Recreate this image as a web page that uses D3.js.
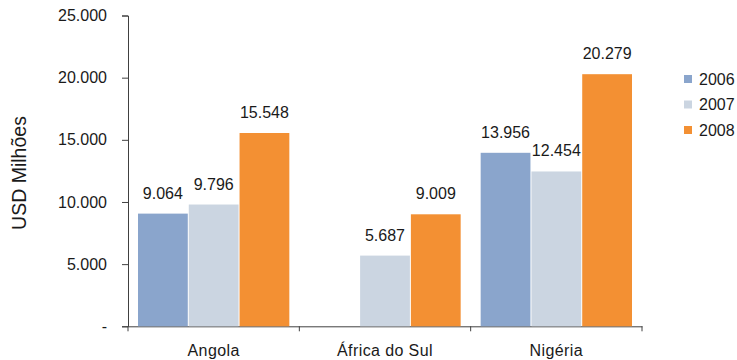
<!DOCTYPE html>
<html>
<head>
<meta charset="utf-8">
<script src="https://cdn.jsdelivr.net/npm/d3@7"></script>
<style>
  body { margin: 0; background: #fff; }
  text { font-family: "Liberation Sans", Arial, sans-serif; fill: #1a1a1a; }
</style>
</head>
<body>
<svg id="drawing_region"></svg>
<script>
// data
const countries = ["Angola", "África do Sul", "Nigéria"];
const years = ["2006", "2007", "2008"];
const values2006 = [9064, null, 13956];
const values2007 = [9796, 5687, 12454];
const values2008 = [15548, 9009, 20279];
const yTicks = [0, 5000, 10000, 15000, 20000, 25000];
const colors = ["#8aa5cc", "#cbd5e1", "#f39033"];

const seriesValues = [values2006, values2007, values2008];

const config = {
    width: 737,
    height: 360,
    margin: {top: 15.5, right: 95, bottom: 34, left: 128}
};

const locale = d3.formatLocale({decimal: ",", thousands: ".", grouping: [3], currency: ["", ""]});
const fmt = locale.format(",.0f");
const tickFmt = d => d === 0 ? "-" : fmt(d);

const svg = d3.select('#drawing_region')
    .attr('width', config.width)
    .attr('height', config.height);

const inner_width = 642 - config.margin.left;
const inner_height = 326.3 - config.margin.top;

const chart = svg.append('g')
    .attr('transform', `translate(${config.margin.left}, ${config.margin.top})`);

const xscale = d3.scaleBand()
    .domain(countries)
    .range([0, inner_width])
    .paddingInner(0)
    .paddingOuter(0);

const groupPad = 10;
const x1 = d3.scaleBand()
    .domain(years)
    .range([groupPad, xscale.bandwidth() - groupPad + 1]);

const yscale = d3.scaleLinear()
    .domain([0, 25000])
    .range([inner_height, 0]);

// y axis
const yaxis_group = chart.append('g')
    .call(d3.axisLeft(yscale).tickValues(yTicks).tickFormat(tickFmt).tickSize(6).tickPadding(15));
yaxis_group.selectAll('text').style('font-size', '16px').attr('fill', '#1a1a1a');
yaxis_group.selectAll('line, path').attr('stroke', '#404040');

// x axis
const xaxis_group = chart.append('g')
    .attr('transform', `translate(0, ${inner_height})`)
    .call(d3.axisBottom(xscale).tickSize(5).tickSizeOuter(0).tickFormat(""));
xaxis_group.selectAll('line, path').attr('stroke', '#404040');
// ticks at band boundaries instead of centers
xaxis_group.selectAll('.tick line').attr('x1', xscale.bandwidth() / 2).attr('x2', xscale.bandwidth() / 2);
xaxis_group.append('line')
    .attr('x1', 0).attr('x2', 0)
    .attr('y1', 0).attr('y2', 5)
    .attr('stroke', '#404040');

chart.append('g').selectAll('text')
    .data(countries)
    .join('text')
    .attr('x', d => xscale(d) + xscale.bandwidth() / 2)
    .attr('y', inner_height + 30)
    .attr('text-anchor', 'middle')
    .style('font-size', '16px')
    .style('letter-spacing', '0.4px')
    .text(d => d);

// bars
const bars = [];
countries.forEach((c, i) => {
    years.forEach((y, j) => {
        const v = seriesValues[j][i];
        if (v !== null) bars.push({country: c, year: y, value: v, color: colors[j]});
    });
});

chart.append('g').selectAll('rect')
    .data(bars)
    .join('rect')
    .attr('x', d => xscale(d.country) + x1(d.year))
    .attr('y', d => yscale(d.value))
    .attr('width', x1.bandwidth() - 1)
    .attr('height', d => inner_height - yscale(d.value))
    .attr('fill', d => d.color);

chart.append('g').selectAll('text')
    .data(bars)
    .join('text')
    .attr('x', d => xscale(d.country) + x1(d.year) + (x1.bandwidth() - 1) / 2)
    .attr('y', d => yscale(d.value) - 15)
    .attr('text-anchor', 'middle')
    .style('font-size', '16px')
    .text(d => fmt(d.value));

// y title
svg.append('text')
    .attr('transform', 'translate(26, 173) rotate(-90)')
    .attr('text-anchor', 'middle')
    .style('font-size', '19.5px')
    .text('USD Milhões');

// legend
const legend = svg.append('g').attr('transform', 'translate(684, 79)');
const items = legend.selectAll('g')
    .data(years)
    .join('g')
    .attr('transform', (d, i) => `translate(0, ${i * 25.5})`);
items.append('rect')
    .attr('x', 0).attr('y', -4)
    .attr('width', 8).attr('height', 8)
    .attr('fill', (d, i) => colors[i]);
items.append('text')
    .attr('x', 15).attr('y', 0)
    .attr('dy', '0.35em')
    .style('font-size', '16px')
    .text(d => d);
</script>
</body>
</html>
